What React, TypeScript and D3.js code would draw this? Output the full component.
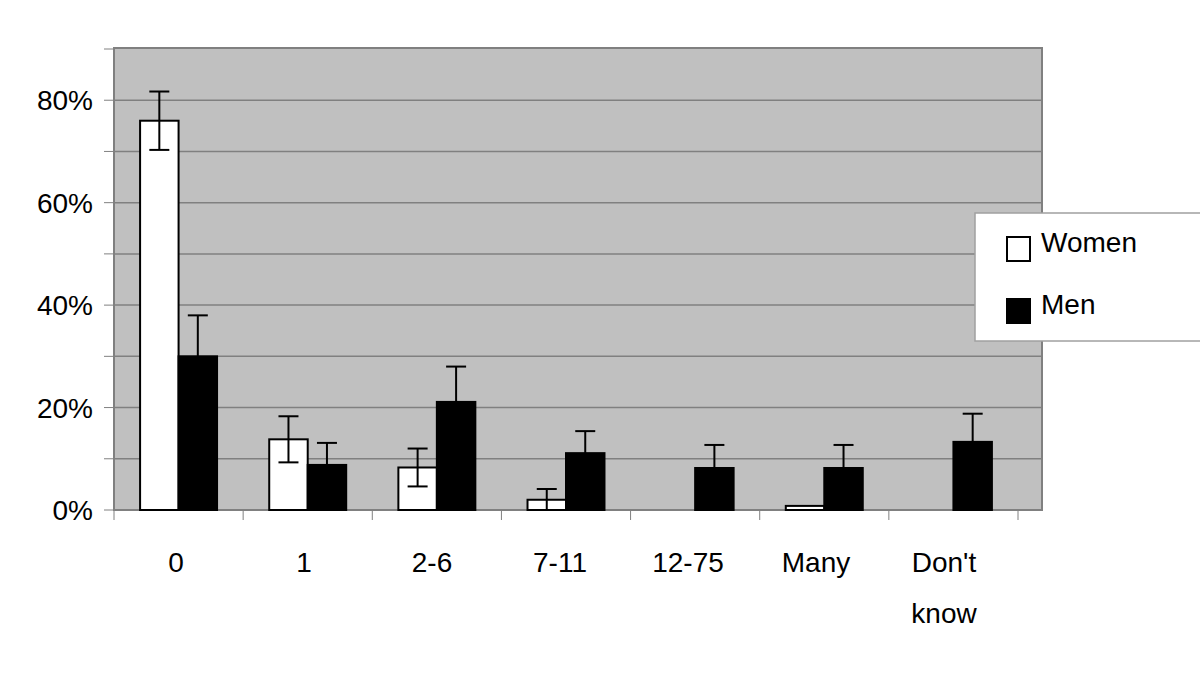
import React from "react";
import * as d3 from "d3";

const categories = ["0", "1", "2-6", "7-11", "12-75", "Many", "Don't know"];
const seriesNames = ["Women", "Men"];
const women = [76, 13.8, 8.3, 2, 0, 0.8, 0];
const womenErr = [5.7, 4.5, 3.7, 2.1, 0, 0, 0];
const men = [30, 8.8, 21.1, 11.1, 8.2, 8.2, 13.3];
const menErr = [8, 4.3, 6.9, 4.3, 4.5, 4.5, 5.5];
const yTickLabels = [0, 20, 40, 60, 80];

const FONT = "'Liberation Sans', Arial, sans-serif";

export default function App() {
  const width = 1200;
  const height = 679;
  const plot = { left: 114, right: 1042, top: 48, bottom: 510 };
  const axisRight = 1018;

  const x = d3
    .scaleBand()
    .domain(categories)
    .range([plot.left, axisRight])
    .paddingInner(0.404)
    .paddingOuter(0.202);
  const step = x.step();
  const inner = d3.scaleBand().domain(seriesNames).range([0, x.bandwidth()]);
  // category labels sit a little left of the band centres in the original
  const labelX = d3.scalePoint().domain(categories).range([176, 944]);

  const y = d3.scaleLinear().domain([0, 90]).range([plot.bottom, 49]);
  const gridTicks = d3.range(10, 90, 10);
  const minorTicks = d3.range(0, 100, 10);

  const rows = categories.map((c, i) => ({
    cat: c,
    values: [
      { name: "Women", v: women[i], e: womenErr[i], fill: "#fff" },
      { name: "Men", v: men[i], e: menErr[i], fill: "#000" },
    ],
  }));

  const boundaries = categories.map((c) => (x(c) as number) + x.bandwidth() / 2 - step / 2);
  boundaries.push(axisRight);

  return (
    <div style={{ position: "absolute", left: 0, top: 0 }}>
      <svg width={width} height={height} style={{ display: "block", background: "#fff" }}>
        {/* plot background */}
        <rect
          x={plot.left}
          y={plot.top}
          width={plot.right - plot.left}
          height={plot.bottom - plot.top}
          fill="#c0c0c0"
        />
        {gridTicks.map((t) => (
          <line
            key={t}
            x1={plot.left}
            x2={plot.right}
            y1={y(t)}
            y2={y(t)}
            stroke="#808080"
            strokeWidth={1.5}
          />
        ))}
        <rect
          x={plot.left}
          y={plot.top}
          width={plot.right - plot.left}
          height={plot.bottom - plot.top}
          fill="none"
          stroke="#808080"
          strokeWidth={2}
        />

        {/* y axis ticks and labels */}
        {minorTicks.map((t) => (
          <line key={t} x1={104} x2={plot.left} y1={y(t)} y2={y(t)} stroke="#808080" strokeWidth={1} />
        ))}
        {yTickLabels.map((t) => (
          <text
            key={t}
            x={93}
            y={y(t)}
            dy="0.36em"
            textAnchor="end"
            fontFamily={FONT}
            fontSize={28}
            fill="#000"
          >
            {t}%
          </text>
        ))}

        {/* x axis ticks */}
        {boundaries.map((b, i) => (
          <line key={i} x1={b} x2={b} y1={plot.bottom} y2={plot.bottom + 10} stroke="#808080" strokeWidth={1} />
        ))}

        {/* bars */}
        {rows.map((r) => (
          <g key={r.cat} transform={`translate(${x(r.cat)},0)`}>
            {r.values.map((d) =>
              d.v > 0 ? (
                <rect
                  key={d.name}
                  x={inner(d.name)}
                  y={y(d.v)}
                  width={inner.bandwidth()}
                  height={y(0) - y(d.v)}
                  fill={d.fill}
                  stroke="#000"
                  strokeWidth={2}
                />
              ) : null
            )}
            {r.values.map((d) => {
              if (d.e <= 0) return null;
              const cx = (inner(d.name) as number) + inner.bandwidth() / 2;
              const lo = Math.max(0, d.v - d.e);
              const hi = d.v + d.e;
              return (
                <g key={d.name + "err"} stroke="#000" strokeWidth={2}>
                  <line x1={cx} x2={cx} y1={y(lo)} y2={y(hi)} />
                  <line x1={cx - 10} x2={cx + 10} y1={y(hi)} y2={y(hi)} />
                  {lo > 0 ? <line x1={cx - 10} x2={cx + 10} y1={y(lo)} y2={y(lo)} /> : null}
                </g>
              );
            })}
          </g>
        ))}

        {/* x labels */}
        {categories.map((c) => {
          const cx = labelX(c) as number;
          const parts = c === "Don't know" ? ["Don't", "know"] : [c];
          return (
            <text key={c} textAnchor="middle" fontFamily={FONT} fontSize={28} fill="#000">
              {parts.map((p, j) => (
                <tspan key={j} x={cx} y={572 + j * 51}>
                  {p}
                </tspan>
              ))}
            </text>
          );
        })}

        {/* legend */}
        <rect x={975} y={213} width={240} height={128} fill="#fff" stroke="#a0a0a0" strokeWidth={1.5} />
        {seriesNames.map((s, i) => (
          <g key={s} transform={`translate(1007,${237 + i * 62})`}>
            <rect x={0} y={0} width={23} height={24} fill={i === 0 ? "#fff" : "#000"} stroke="#000" strokeWidth={2} />
            <text x={34} y={15} fontFamily={FONT} fontSize={28} fill="#000">
              {s}
            </text>
          </g>
        ))}
      </svg>
    </div>
  );
}
